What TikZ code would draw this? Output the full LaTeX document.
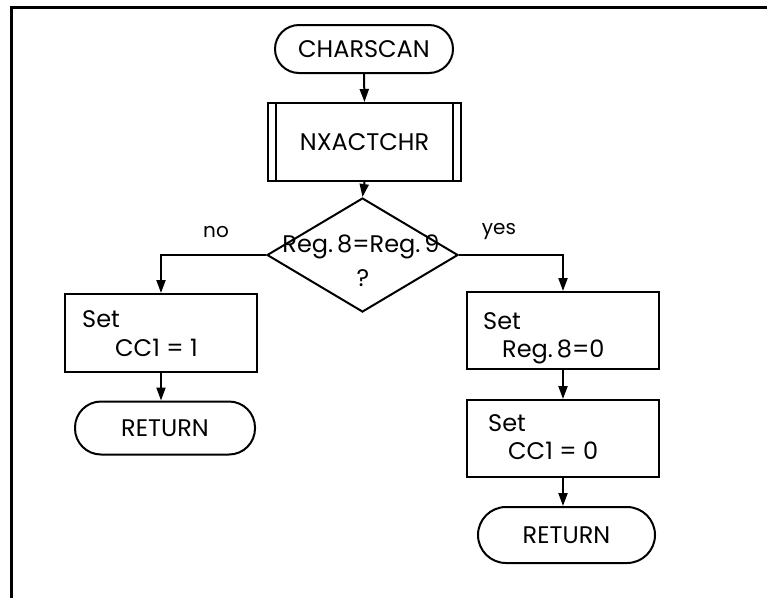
\documentclass[tikz,border=0pt]{standalone}
\usepackage{fontspec}
\setmainfont{Poppins}
\usetikzlibrary{shapes.geometric,arrows.meta}
\begin{document}
\begin{tikzpicture}[x=1pt,y=-1pt,
  every node/.style={font=\fontsize{24}{28}\selectfont},
  line/.style={line width=2pt},
  arr/.style={line width=2pt,-{Triangle[length=13pt,width=9pt]}},
  term/.style={draw,line width=2pt,rounded corners=24pt,inner sep=0pt},
  procbox/.style={draw,line width=2pt,inner sep=0pt},
  txt/.style={inner sep=0pt,anchor=base west},
  lbl/.style={inner sep=0pt,font=\fontsize{20}{24}\selectfont}]
\useasboundingbox (0,0) rectangle (767,598);
\draw[line width=3pt] (11,598) -- (11,7) -- (767,7);
% start
\node[term,minimum width=178pt,minimum height=48pt] (cs) at (364,49) {CHARSCAN};
\node[procbox,minimum width=193pt,minimum height=78pt] (nx) at (364.5,142) {NXACTCHR};
\draw[line] ([xshift=9pt]nx.north west) -- ([xshift=9pt]nx.south west);
\draw[line] ([xshift=-9pt]nx.north east) -- ([xshift=-9pt]nx.south east);
% decision
\node[draw,line width=2pt,diamond,minimum width=191pt,minimum height=114pt,inner sep=0pt] (dm) at (362.5,255) {};
\node[inner sep=0pt] (dt1) at (361,247) {Reg.\,8=Reg.\,9};
\node[inner sep=0pt] (dt2) at (363,278) {?};
\node[lbl] (no) at (216,232) {no};
\node[lbl] (yes) at (499,232) {yes};
% left branch
\node[procbox,minimum width=192pt,minimum height=78pt] (b1) at (161,333) {};
\node[txt] (b1a) at (82,327) {Set};
\node[txt] (b1b) at (115,356) {CC1 = 1};
\node[term,minimum width=180pt,minimum height=53pt,rounded corners=26pt] (ret1) at (165,428) {RETURN};
% right branch
\node[procbox,minimum width=192pt,minimum height=77pt] (r1) at (563,330.5) {};
\node[txt] (r1a) at (483,329) {Set};
\node[txt] (r1b) at (502,357) {Reg.\,8=0};
\node[procbox,minimum width=192pt,minimum height=77pt] (r2) at (563,438.5) {};
\node[txt] (r2a) at (488,431) {Set};
\node[txt] (r2b) at (508,459) {CC1 = 0};
\node[term,minimum width=177pt,minimum height=56pt,rounded corners=28pt] (ret2) at (566.5,535) {RETURN};
% connectors
\draw[arr] (cs.south) -- (nx.north);
\draw[arr] (nx.south) -- (dm.north);
\draw[arr] (dm.west) -| (b1.north);
\draw[arr] (dm.east) -| (r1.north);
\draw[arr] (b1.south) -- (b1.south |- ret1.north);
\draw[arr] (r1.south) -- (r2.north);
\draw[arr] (r2.south) -- (r2.south |- ret2.north);
\end{tikzpicture}
\end{document}
